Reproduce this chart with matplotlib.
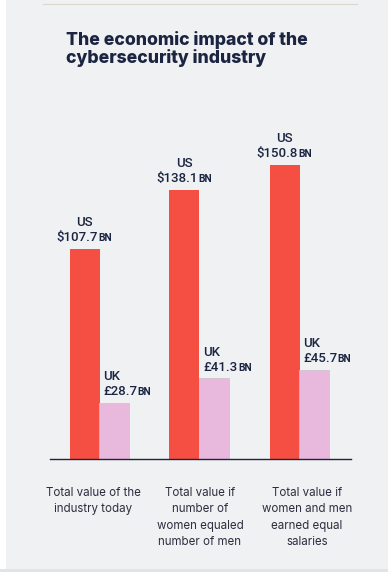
import matplotlib
matplotlib.use("Agg")
import matplotlib.pyplot as plt
from matplotlib.patches import Rectangle
from matplotlib.lines import Line2D
from matplotlib.offsetbox import TextArea, HPacker, VPacker, AnnotationBbox
import numpy as np

# data
categories = ["Total value of the\nindustry today",
              "Total value if\nnumber of\nwomen equaled\nnumber of men",
              "Total value if\nwomen and men\nearned equal\nsalaries"]
us_values = [107.7, 138.1, 150.8]
uk_values = [28.7, 41.3, 45.7]
us_label = "US"
uk_label = "UK"

# styling
BG = "#f0f1f3"
RED = "#f54e42"
PINK = "#e8b9dc"
NAVY = "#1b2440"
TXT = "#2b2f3e"
W, H = 388, 572

fig = plt.figure(figsize=(W / 100, H / 100), dpi=100)
fig.patch.set_facecolor("white")

# grey panel + thin rule at top, light strip at bottom
fig.add_artist(Rectangle((0, 0), 1, 3 / H, transform=fig.transFigure,
                         facecolor="#e2e3e5", edgecolor="none", zorder=-11))
fig.add_artist(Rectangle((6 / W, 3 / H), 1, 1, transform=fig.transFigure,
                         facecolor=BG, edgecolor="none", zorder=-10))
fig.add_artist(Line2D([43 / W, 357 / W], [1 - 4 / H, 1 - 4 / H],
                      transform=fig.transFigure, color="#ddd6cf", lw=0.8))

fig.text(66 / W, 1 - 31 / H, "The economic impact of the\ncybersecurity industry",
         fontsize=12.7, fontweight=800, family=["Inter", "DejaVu Sans"],
         color=NAVY, ha="left", va="top", linespacing=1.0)

# axes: baseline at y=459px, x from 50 to 351px
ax_left, ax_right = 50, 351
base = 459
ymax = 170
px_per_unit = 1.95
ax_h = ymax * px_per_unit
ax = fig.add_axes([ax_left / W, (H - base) / H, (ax_right - ax_left) / W, ax_h / H])
ax.set_facecolor("none")
ax.set_xlim(-0.495, 2.515)
ax.set_ylim(0, ymax)
for s in ["top", "right", "left"]:
    ax.spines[s].set_visible(False)
ax.spines["bottom"].set_color(NAVY)
ax.spines["bottom"].set_linewidth(1.0)
ax.set_xticks([])
ax.set_yticks([])

x = np.arange(len(categories))
bw = 0.3
ax.bar(x - bw / 2, us_values, width=bw, color=RED, edgecolor="none", zorder=2)
ax.bar(x + bw / 2, uk_values, width=bw, color=PINK, edgecolor="#cbbfca",
       linewidth=0.5, zorder=2)

numfont = ["Roboto", "DejaVu Sans"]


def value_box(region, symbol, val, align):
    top = TextArea(region, textprops=dict(fontsize=9.5, color=NAVY, family=numfont,
                                          fontweight="medium"))
    num = TextArea(f"{symbol}{val:.1f}", textprops=dict(fontsize=9.5, color=NAVY,
                                                       family=numfont, fontweight="medium"))
    bn = TextArea("BN", textprops=dict(fontsize=7.4, color=NAVY, family=numfont,
                                       fontweight="bold"))
    row = HPacker(children=[num, bn], align="baseline", pad=0, sep=0.5)
    return VPacker(children=[top, row], align=align, pad=0, sep=1.5)


for i in range(len(categories)):
    box = value_box(us_label, "$", us_values[i], "center")
    ab = AnnotationBbox(box, (x[i] - bw / 2, us_values[i]), xybox=(0, 3.5),
                        boxcoords="offset points", box_alignment=(0.5, 0),
                        frameon=False, pad=0)
    ax.add_artist(ab)
    box = value_box(uk_label, "£", uk_values[i], "left")
    ab = AnnotationBbox(box, (x[i], uk_values[i]), xybox=(2.5, 3.5),
                        boxcoords="offset points", box_alignment=(0, 0),
                        frameon=False, pad=0)
    ax.add_artist(ab)

# category labels under the axis
label_shift = [-0.065, 0.005, 0.075]
for i, cat in enumerate(categories):
    ax.annotate(cat, (x[i] + label_shift[i], 0), xytext=(0, -20),
                textcoords="offset points", ha="center", va="top",
                fontsize=8.3, color=TXT, family=["Inter", "DejaVu Sans"],
                linespacing=1.5, annotation_clip=False)

fig.savefig("out.png", dpi=100, facecolor=fig.get_facecolor())
